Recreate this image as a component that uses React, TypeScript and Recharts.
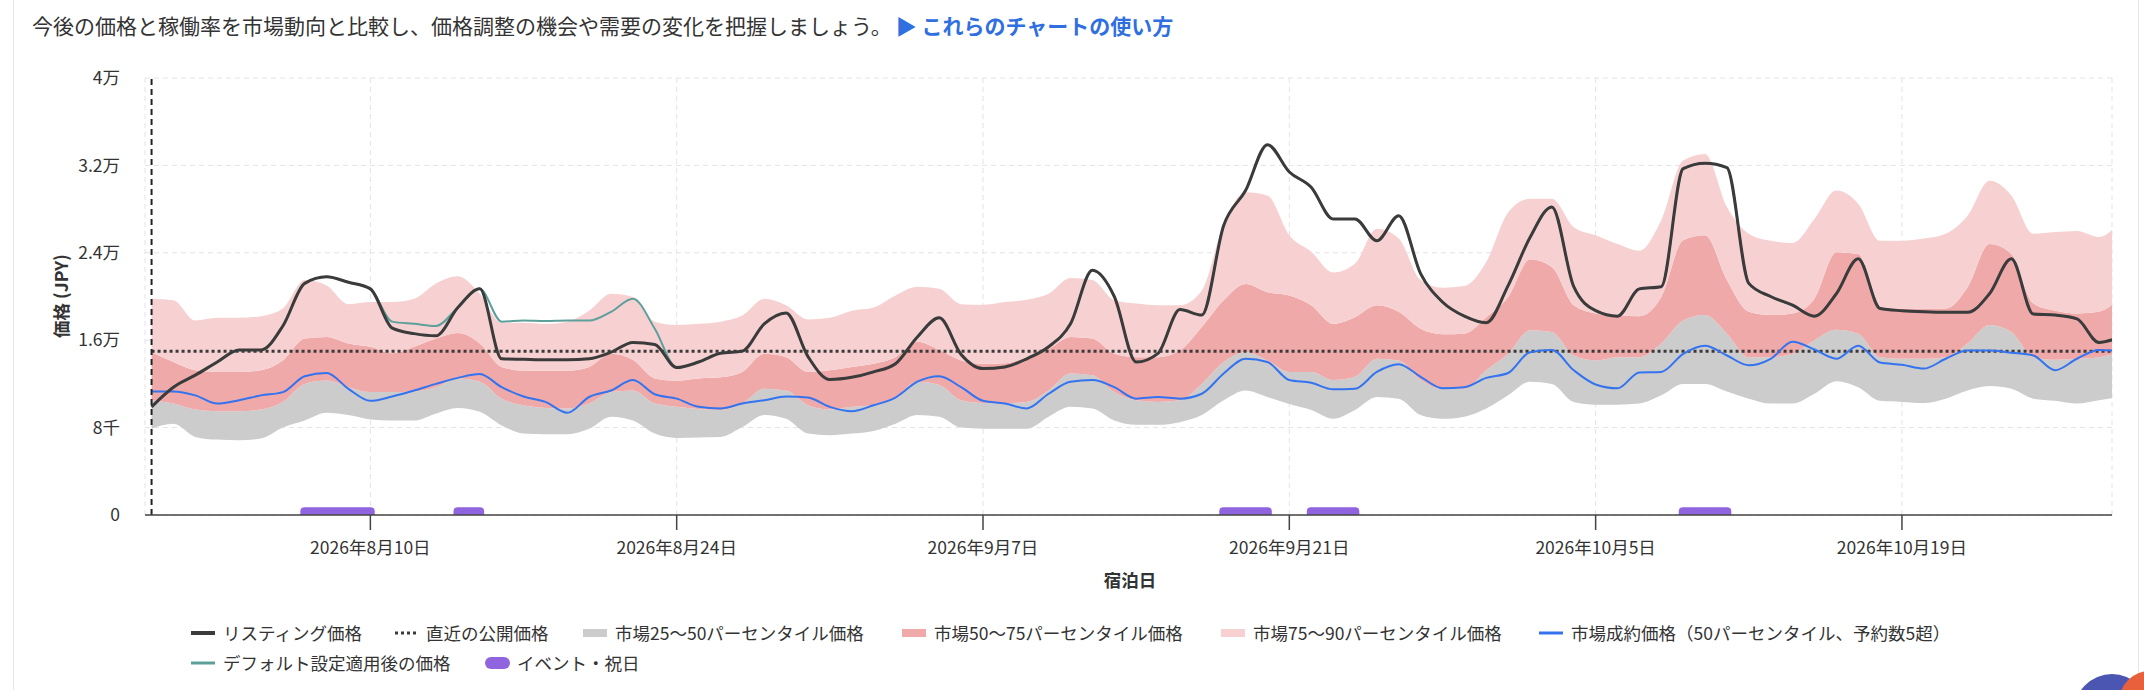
import React from 'react';
import { ComposedChart, Area, Line, XAxis, YAxis, CartesianGrid, ReferenceLine, ReferenceArea } from 'recharts';

const FONT = "'Noto Sans CJK JP', 'Noto Sans', sans-serif";

// x axis: day index from 2026-07-31
const tickDays = [10, 24, 38, 52, 66, 80];
const tickLabels = ['2026年8月10日', '2026年8月24日', '2026年9月7日', '2026年9月21日', '2026年10月5日', '2026年10月19日'];

const yTicks = [0, 8000, 16000, 24000, 32000, 40000];
const yTickLabels = ['0', '8千', '1.6万', '2.4万', '3.2万', '4万'];

const recentPrice = 15000;

// event / holiday spans [startDay, endDay]
const events: [number, number][] = [[7, 10], [14, 15], [49, 51], [53, 55], [70, 72]];

const listing = [
  9900, 11700, 12800, 14000, 15100, 15100, 17300, 21200, 21800, 21300,
  20700, 17100, 16600, 16400, 19000, 20700, 14300, 14250, 14200, 14200,
  14300, 14900, 15800, 15600, 13500, 14000, 14800, 15000, 17500, 18500,
  14500, 12400, 12600, 13100, 13850, 16300, 18050, 14700, 13400, 13550,
  14300, 15400, 17500, 22400, 20000, 14000, 14800, 18800, 18300, 26500,
  29700, 33900, 31400, 30000, 27100, 27100, 25100, 27400, 22100, 19500,
  18200, 17600, 21000, 25400, 28200, 20900, 18700, 18200, 20700, 20900,
  31700, 32200, 31800, 21200, 20000, 19200, 18200, 20250, 23450, 18900,
  18700, 18600, 18550, 18550, 20250, 23450, 18400, 18300, 17950, 15800,
  16300,
];

const defaultPrice = [
  9900, 11700, 12800, 14000, 15100, 15100, 17300, 21200, 21800, 21300,
  20700, 17700, 17500, 17300, 19000, 20700, 17700, 17800, 17750, 17800,
  17800, 18600, 19800, 17050, 13500, 14000, 14800, 15000, 17500, 18500,
  14500, 12400, 12600, 13100, 13850, 16300, 18050, 14700, 13400, 13550,
  14300, 15400, 17500, 22400, 20000, 14000, 14800, 18800, 18300, 26500,
  29700, 33900, 31400, 30000, 27100, 27100, 25100, 27400, 22100, 19500,
  18200, 17600, 21000, 25400, 28200, 20900, 18700, 18200, 20700, 20900,
  31700, 32200, 31800, 21200, 20000, 19200, 18200, 20250, 23450, 18900,
  18700, 18600, 18550, 18550, 20250, 23450, 18400, 18300, 17950, 15800,
  16300,
];

const p90 = [
  19800, 19650, 17800, 18050, 18050, 18200, 18900, 21500, 21000, 19300,
  19500, 19500, 19800, 21200, 21850, 20250, 17600, 17600, 17500, 17700,
  18700, 20250, 19950, 17700, 17400, 17500, 17700, 18250, 19800, 19200,
  17900, 18050, 18700, 19000, 20100, 20900, 20700, 19300, 19250, 19500,
  19700, 20250, 21700, 21500, 19650, 19350, 19200, 19200, 20550, 26650,
  29550, 29250, 25600, 24100, 22200, 23000, 26200, 25300, 21500, 20800,
  20950, 23150, 27700, 28950, 28950, 26350, 25600, 24800, 24200, 27000,
  32450, 33050, 28200, 25750, 25100, 24900, 27100, 29700, 28500, 25100,
  25100, 25300, 25750, 27400, 30600, 29250, 25750, 25900, 26000, 25450,
  26950,
];

const p75 = [
  14900, 14000, 13250, 13100, 13100, 13250, 14150, 16150, 16300, 15700,
  15400, 14800, 15400, 16150, 16650, 15700, 13550, 13200, 13200, 13200,
  13550, 14750, 14200, 12500, 12300, 12500, 12600, 13100, 14750, 14450,
  13100, 13250, 13550, 13850, 14450, 15850, 15100, 14150, 13850, 13900,
  14450, 15200, 16300, 16150, 14750, 14450, 14450, 15050, 17200, 19650,
  21150, 20400, 20100, 19200, 17500, 18100, 19200, 18600, 17050, 16550,
  16600, 18100, 19950, 23400, 22700, 19200, 18450, 18250, 18200, 19950,
  25150, 25600, 21500, 18600, 18300, 18450, 19800, 24050, 23900, 19050,
  18900, 18900, 18900, 20850, 24800, 23900, 19350, 18700, 18450, 18600,
  19950,
];

const p50 = [
  10500, 10200, 9650, 9500, 9500, 9650, 10350, 12000, 12300, 11700,
  11250, 11250, 11300, 11700, 12500, 12200, 10650, 10050, 9800, 9750,
  10200, 11250, 11400, 10200, 9900, 9700, 9600, 10200, 11550, 11400,
  10050, 9650, 9900, 10050, 10800, 12200, 11900, 10500, 10250, 10250,
  10350, 11400, 12950, 12800, 11250, 10500, 10350, 10500, 12000, 14000,
  14900, 14150, 13100, 13100, 12350, 12650, 14300, 14150, 12350, 11550,
  11550, 13250, 14750, 16900, 16750, 14600, 14150, 14450, 14450, 15700,
  17800, 18300, 16600, 14450, 14450, 14750, 16000, 16950, 16600, 14450,
  14300, 14300, 14450, 15700, 17400, 16750, 14450, 14200, 14300, 14450,
  14900,
];

const p25 = [
  7900, 8350, 7150, 6900, 6850, 7000, 8000, 8650, 9350, 9150,
  8750, 8650, 8650, 9300, 9800, 9450, 8200, 7450, 7400, 7400,
  7900, 9000, 8650, 7450, 7050, 7100, 7150, 8050, 9150, 8800,
  7450, 7300, 7450, 7700, 8350, 9150, 9000, 8000, 7900, 7900,
  7900, 9000, 9900, 9750, 8650, 8250, 8250, 8500, 9150, 10500,
  11400, 10800, 10150, 9600, 8800, 9600, 10800, 10650, 9150, 8800,
  9000, 9750, 10950, 12200, 12000, 10350, 10100, 10100, 10200, 10950,
  12000, 12000, 11300, 10650, 10200, 10200, 11100, 12250, 11700, 10450,
  10350, 10250, 10650, 11400, 11800, 11550, 10650, 10450, 10200, 10500,
  10800,
];

const market = [
  11300, 11300, 10950, 10200, 10500, 10950, 11250, 12700, 13000, 11550,
  10450, 10850, 11400, 12000, 12550, 12900, 11700, 10850, 10350, 9350,
  10800, 11400, 12350, 11050, 10650, 9900, 9750, 10200, 10500, 10850,
  10750, 9900, 9500, 10050, 10750, 12200, 12700, 11700, 10450, 10200,
  9750, 11100, 12200, 12350, 11700, 10650, 10800, 10650, 11100, 12950,
  14300, 14000, 12350, 12100, 11500, 11550, 13100, 13800, 12650, 11600,
  11700, 12550, 13000, 14900, 15100, 13250, 11950, 11600, 13050, 13100,
  14750, 15500, 14600, 13700, 14300, 15850, 15150, 14300, 15500, 13950,
  13750, 13400, 14300, 15050, 15050, 14850, 14600, 13250, 14300, 15100,
  15000,
];

const rows = listing.map((v, i) => ({
  day: i,
  listing: v,
  def: defaultPrice[i],
  p25: p25[i],
  p50: p50[i],
  p75: p75[i],
  p90: p90[i],
  market: market[i],
  recent: recentPrice,
}));

const C = {
  listing: '#3b3b3b',
  recent: '#3a3a3a',
  band25: '#cccccc',
  band50: '#f0a9a9',
  band75: '#f7d1d1',
  market: '#3373f0',
  def: '#5c9f9b',
  event: '#9063df',
  grid: '#e3e3e3',
  text: '#333333',
};

const Pill = (props: any) => {
  const { x, y, width, height } = props;
  if (![x, y, width, height].every((n) => typeof n === 'number' && isFinite(n))) return <g />;
  const r = Math.min(4, Math.abs(height), width / 2);
  const top = Math.min(y, y + height);
  const h = Math.abs(height);
  const d = `M${x},${top + h} L${x},${top + r} Q${x},${top} ${x + r},${top} L${x + width - r},${top} Q${x + width},${top} ${x + width},${top + r} L${x + width},${top + h} Z`;
  return <path d={d} fill={C.event} />;
};

type LegendKind = 'line' | 'dots' | 'rect' | 'pill';
const legendItems: { label: string; kind: LegendKind; color: string; left: number; row: number }[] = [
  { label: 'リスティング価格', kind: 'line', color: C.listing, left: 191, row: 0 },
  { label: '直近の公開価格', kind: 'dots', color: C.recent, left: 394, row: 0 },
  { label: '市場25〜50パーセンタイル価格', kind: 'rect', color: C.band25, left: 583, row: 0 },
  { label: '市場50〜75パーセンタイル価格', kind: 'rect', color: C.band50, left: 902, row: 0 },
  { label: '市場75〜90パーセンタイル価格', kind: 'rect', color: C.band75, left: 1221, row: 0 },
  { label: '市場成約価格（50パーセンタイル、予約数5超）', kind: 'line', color: C.market, left: 1539, row: 0 },
  { label: 'デフォルト設定適用後の価格', kind: 'line', color: C.def, left: 191, row: 1 },
  { label: 'イベント・祝日', kind: 'pill', color: C.event, left: 485, row: 1 },
];

const Swatch = ({ kind, color }: { kind: LegendKind; color: string }) => {
  if (kind === 'line') {
    return (
      <svg width={24} height={12} style={{ display: 'block' }}>
        <line x1={0} y1={6} x2={24} y2={6} stroke={color} strokeWidth={color === C.listing ? 4 : 3} />
      </svg>
    );
  }
  if (kind === 'dots') {
    return (
      <svg width={24} height={12} style={{ display: 'block' }}>
        <line x1={1} y1={6} x2={23} y2={6} stroke={color} strokeWidth={3} strokeDasharray="3 3" />
      </svg>
    );
  }
  if (kind === 'rect') {
    return (
      <svg width={24} height={12} style={{ display: 'block' }}>
        <rect x={0} y={2} width={24} height={8} fill={color} />
      </svg>
    );
  }
  return (
    <svg width={25} height={12} style={{ display: 'block' }}>
      <rect x={0} y={0} width={25} height={12} rx={6} ry={6} fill={color} />
    </svg>
  );
};

export default function App() {
  const rowCenters = [633, 663];
  return (
    <div
      style={{
        position: 'absolute',
        left: 0,
        top: 0,
        width: 2144,
        height: 690,
        background: '#ffffff',
        fontFamily: FONT,
        color: C.text,
        overflow: 'hidden',
      }}
    >
      {/* card borders */}
      <div style={{ position: 'absolute', left: 13, top: 0, width: 1, height: 690, background: '#e6e6e6' }} />
      <div style={{ position: 'absolute', left: 2138, top: 0, width: 1, height: 690, background: '#e6e6e6' }} />

      {/* header */}
      <div
        style={{
          position: 'absolute',
          left: 32,
          top: 12,
          fontSize: 21,
          lineHeight: '26px',
          whiteSpace: 'nowrap',
          color: '#333',
        }}
      >
        今後の価格と稼働率を市場動向と比較し、価格調整の機会や需要の変化を把握しましょう。
        <span style={{ color: '#2f6fdf', fontWeight: 700, marginLeft: 4 }}>▶ これらのチャートの使い方</span>
      </div>

      {/* chart */}
      <div style={{ position: 'absolute', left: 0, top: 0 }}>
        <ComposedChart width={2144} height={600} data={rows} margin={{ top: 78, right: 32, bottom: 55, left: 85 }}>
          <CartesianGrid stroke={C.grid} strokeDasharray="5 4" />
          <XAxis
            type="number"
            dataKey="day"
            domain={[-0.3, 89.6]}
            allowDataOverflow
            ticks={tickDays}
            tickFormatter={(v: number) => tickLabels[tickDays.indexOf(v)] ?? ''}
            tick={{ fill: C.text, fontSize: 17.5 }}
            tickSize={15}
            tickMargin={12}
            axisLine={{ stroke: '#444', strokeWidth: 1.5 }}
            tickLine={{ stroke: '#444', strokeWidth: 1.5 }}
            height={30}
          />
          <YAxis
            type="number"
            domain={[0, 40000]}
            ticks={yTicks}
            tickFormatter={(v: number) => yTickLabels[yTicks.indexOf(v)] ?? ''}
            tick={{ fill: C.text, fontSize: 17.5 }}
            axisLine={false}
            tickLine={false}
            tickSize={0}
            tickMargin={25}
            width={60}
          />
          <Area
            type="monotone"
            dataKey={(r: any) => [r.p25, r.p50]}
            stroke="none"
            fill={C.band25}
            fillOpacity={1}
            isAnimationActive={false}
            dot={false}
            activeDot={false}
          />
          <Area
            type="monotone"
            dataKey={(r: any) => [r.p50, r.p75]}
            stroke="none"
            fill={C.band50}
            fillOpacity={1}
            isAnimationActive={false}
            dot={false}
            activeDot={false}
          />
          <Area
            type="monotone"
            dataKey={(r: any) => [r.p75, r.p90]}
            stroke="none"
            fill={C.band75}
            fillOpacity={1}
            isAnimationActive={false}
            dot={false}
            activeDot={false}
          />
          {events.map(([s, e], i) => (
            <ReferenceArea key={i} x1={s - 0.2} x2={e + 0.2} y1={0} y2={700} shape={<Pill />} />
          ))}
          <Line
            type="monotone"
            dataKey="recent"
            stroke={C.recent}
            strokeWidth={3}
            strokeDasharray="3 3"
            dot={false}
            activeDot={false}
            isAnimationActive={false}
          />
          <Line
            type="monotone"
            dataKey="market"
            stroke={C.market}
            strokeWidth={2}
            dot={false}
            activeDot={false}
            isAnimationActive={false}
          />
          <Line
            type="monotone"
            dataKey="def"
            stroke={C.def}
            strokeWidth={2}
            dot={false}
            activeDot={false}
            isAnimationActive={false}
          />
          <Line
            type="monotone"
            dataKey="listing"
            stroke={C.listing}
            strokeWidth={3}
            dot={false}
            activeDot={false}
            isAnimationActive={false}
          />
          <ReferenceLine x={0} stroke="#222" strokeWidth={2} strokeDasharray="6 4" />
        </ComposedChart>
      </div>

      {/* axis titles */}
      <div
        style={{
          position: 'absolute',
          left: 61,
          top: 296,
          transform: 'translate(-50%, -50%) rotate(-90deg)',
          fontSize: 17.5,
          fontWeight: 700,
          whiteSpace: 'nowrap',
          lineHeight: '24px',
        }}
      >
        価格 (JPY)
      </div>
      <div
        style={{
          position: 'absolute',
          left: 1130,
          top: 580,
          transform: 'translate(-50%, -50%)',
          fontSize: 17.5,
          fontWeight: 700,
          whiteSpace: 'nowrap',
          lineHeight: '24px',
        }}
      >
        宿泊日
      </div>

      {/* legend */}
      {legendItems.map((it, i) => (
        <div
          key={i}
          style={{
            position: 'absolute',
            left: it.left,
            top: rowCenters[it.row] - 12,
            height: 24,
            display: 'flex',
            alignItems: 'center',
            whiteSpace: 'nowrap',
            fontSize: 17.5,
            lineHeight: '24px',
          }}
        >
          <Swatch kind={it.kind} color={it.color} />
          <span style={{ marginLeft: it.kind === 'pill' ? 7 : 8 }}>{it.label}</span>
        </div>
      ))}

      {/* floating help widget (partially visible) */}
      <div style={{ position: 'absolute', left: 2074, top: 674, width: 76, height: 76, borderRadius: 38, background: '#4b55b2' }} />
      <div style={{ position: 'absolute', left: 2119, top: 671, width: 62, height: 62, borderRadius: 31, background: '#e8613c' }} />
    </div>
  );
}
